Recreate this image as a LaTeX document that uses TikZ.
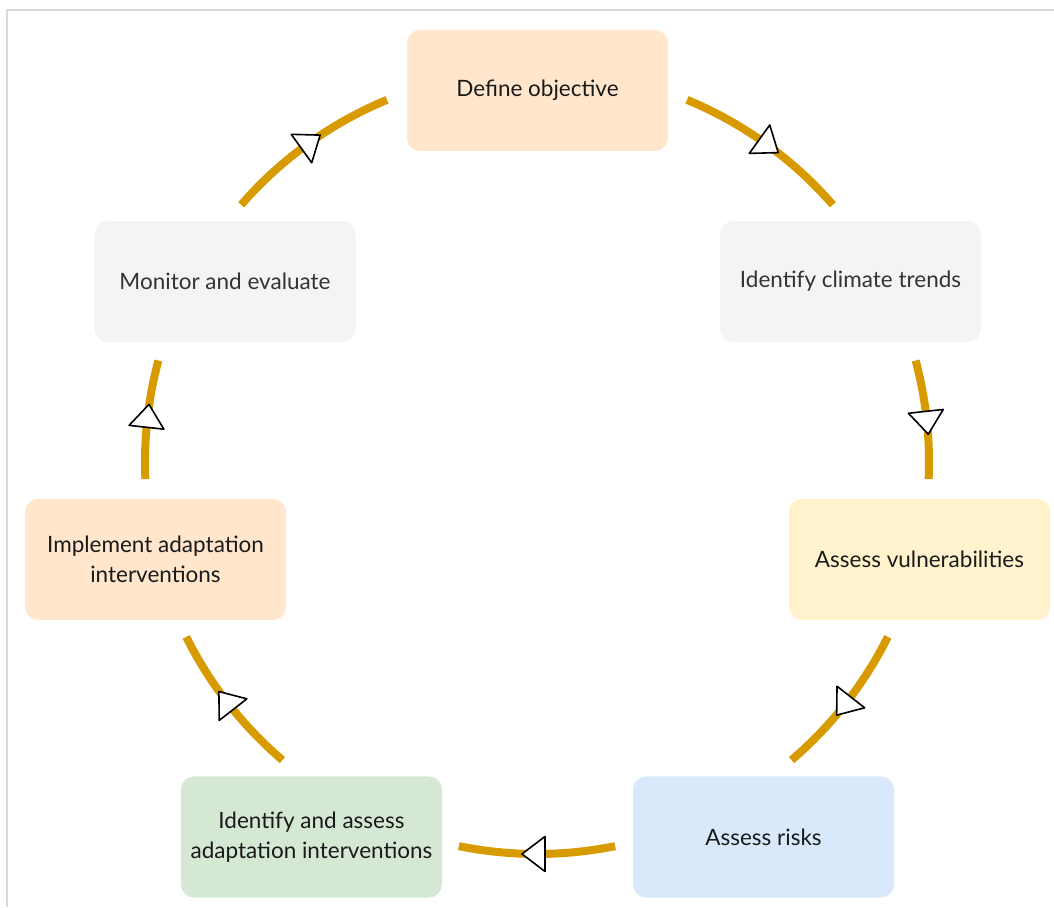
\documentclass[tikz,border=0pt]{standalone}
\usepackage{fontspec}
\setmainfont{Lato}
\usetikzlibrary{decorations.markings}

\definecolor{flowcol}{HTML}{D79B00}
\definecolor{orangebox}{HTML}{FFE6CC}
\definecolor{graybox}{HTML}{F4F4F4}
\definecolor{yellowbox}{HTML}{FFF2CC}
\definecolor{bluebox}{HTML}{DAE8FC}
\definecolor{greenbox}{HTML}{D5E8D4}
\definecolor{framecol}{HTML}{DADADA}
\definecolor{darktext}{HTML}{1A1A1A}
\definecolor{graytext}{HTML}{333333}

\tikzset{
  stage/.style={rectangle, rounded corners=13pt, minimum width=261pt,
    minimum height=121pt, inner sep=0pt, align=center, text=darktext,
    font=\fontsize{22.5}{30}\selectfont},
  flow/.style={draw=flowcol, line width=8pt, postaction={decorate},
    decoration={markings, mark=at position 0.5 with {
      \draw[black, fill=white, line width=1.6pt, line join=round]
        (15,0) -- (-8,17.5) -- (-8,-17.5) -- cycle;}}}
}

\begin{document}
\begin{tikzpicture}[x=1pt, y=1pt]
  \useasboundingbox (0,0) rectangle (1054,907);
  \draw[framecol, line width=2pt] (7,0) |- (1054,897);

  \coordinate (c) at (537,445);

  % cycle of arcs
  \foreach \a/\b in {139/112.5, 67.5/41, 15/-2.5, -26.5/-49.5,
                     -78.5/-101.5, -130.5/-153.5, 182.5/165}
    \draw[flow] ([shift={(\a:392)}]c) arc[start angle=\a, end angle=\b, radius=392];

  \node[stage, fill=orangebox] (obj) at (537.5,816.5) {Define objective};
  \node[stage, fill=graybox, text=graytext] (trend) at (850.5,625.5) {Identify climate trends};
  \node[stage, fill=yellowbox] (vuln) at (919.5,347.5) {Assess vulnerabilities};
  \node[stage, fill=bluebox] (risk) at (763.5,70) {Assess risks};
  \node[stage, fill=greenbox] (opt) at (311.5,70) {Identify and assess\\adaptation interventions};
  \node[stage, fill=orangebox] (impl) at (155.5,347.5) {Implement adaptation\\interventions};
  \node[stage, fill=graybox, text=graytext] (mon) at (225,625.5) {Monitor and evaluate};
\end{tikzpicture}
\end{document}
